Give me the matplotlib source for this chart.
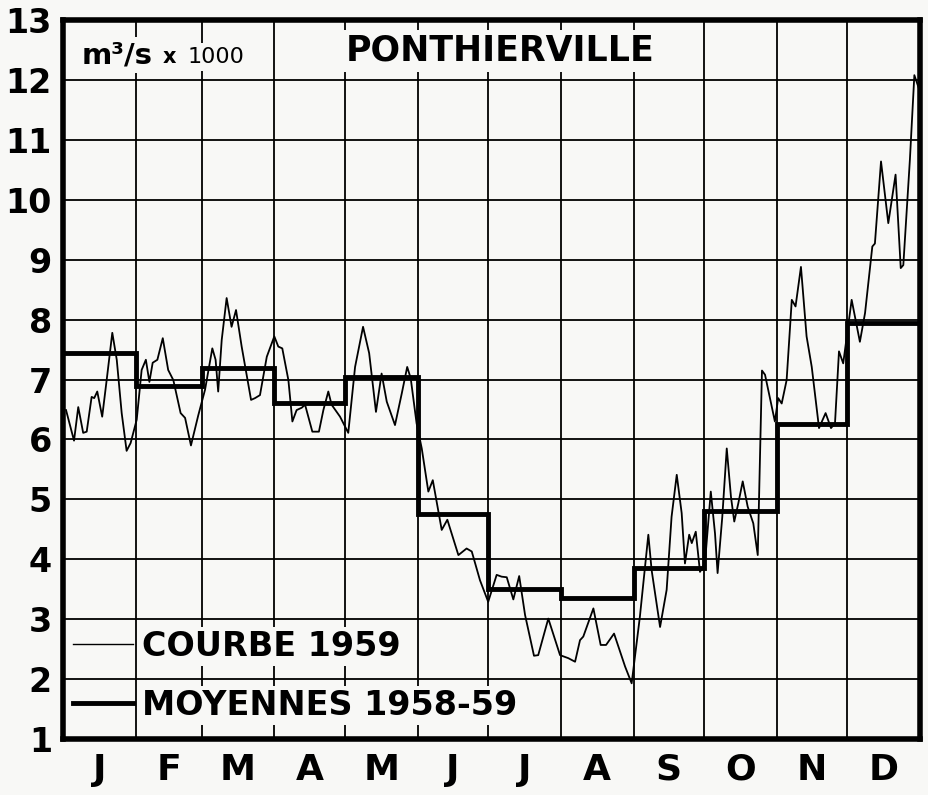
import matplotlib
matplotlib.use("Agg")
import matplotlib.pyplot as plt
from matplotlib.lines import Line2D
import numpy as np

# --- data ---
months = ['J', 'F', 'M', 'A', 'M', 'J', 'J', 'A', 'S', 'O', 'N', 'D']
month_days = [31, 28, 31, 30, 31, 30, 31, 31, 30, 31, 30, 31]
# monthly means 1958-59, 1000 m3/s
means = [7.45, 6.9, 7.2, 6.6, 7.05, 4.75, 3.5, 3.35, 3.85, 4.8, 6.25, 7.95]

# daily curve 1959 (day of year, 1000 m3/s)
day = [1.3, 4.7, 6.5, 8.6, 10.1, 12.2, 13.3, 14.6, 16.7, 18.6, 21.0, 22.9,
       25.0, 27.1, 28.8, 31.4, 33.5, 35.3, 36.8, 38.2, 40.2, 42.5, 44.8, 47.0,
       50.1, 52.0, 54.5, 57.6, 60.5, 63.6, 65.0, 66.1, 67.6, 69.7, 71.8, 73.7,
       76.1, 80.1, 81.8, 83.9, 86.8, 90.0, 91.7, 93.4, 96.0, 97.7, 99.5, 101.7,
       103.1, 106.2, 109.0, 110.9, 113.0, 114.4, 118.0, 121.5, 124.4, 127.8,
       130.4, 133.3, 135.7, 137.9, 141.4, 144.3, 146.6, 148.1, 150.6, 152.8,
       155.6, 157.5, 161.3, 163.7, 168.4, 171.9, 174.1, 177.6, 181.1, 184.7,
       186.8, 189.0, 191.8, 194.3, 196.8, 200.6, 202.4, 206.7, 211.7, 215.2,
       218.1, 220.2, 221.6, 225.9, 229.0, 231.3, 234.7, 239.4, 242.2, 245.7,
       249.3, 250.7, 254.3, 257.1, 259.2, 261.4, 263.5, 264.9, 266.7, 267.8,
       269.5, 271.3, 273.4, 275.9, 277.7, 278.8, 280.8, 282.7, 284.5, 285.9,
       287.6, 289.5, 291.6, 294.0, 295.9, 297.7, 299.0, 303.2, 304.6, 306.1,
       308.2, 310.4, 312.0, 314.3, 316.7, 318.9, 322.0, 324.8, 327.1, 328.8,
       330.5, 332.3, 335.9, 339.4, 341.6, 344.7, 345.8, 348.4, 351.5, 354.6,
       356.8, 357.9, 360.7, 362.6, 364.6]
flow = [6.49, 5.98, 6.54, 6.11, 6.13, 6.71, 6.69, 6.80, 6.38, 6.99, 7.78, 7.33,
        6.44, 5.81, 5.94, 6.33, 7.16, 7.33, 6.96, 7.28, 7.33, 7.69, 7.16, 6.99,
        6.44, 6.36, 5.90, 6.40, 6.83, 7.52, 7.33, 6.80, 7.66, 8.36, 7.88, 8.16,
        7.55, 6.66, 6.69, 6.74, 7.38, 7.72, 7.55, 7.52, 6.99, 6.30, 6.49, 6.53,
        6.58, 6.13, 6.13, 6.49, 6.80, 6.58, 6.38, 6.11, 7.21, 7.88,
        7.44, 6.46, 7.10, 6.63, 6.24, 6.77, 7.21, 7.02, 6.27, 5.85,
        5.13, 5.32, 4.49, 4.66, 4.07, 4.18, 4.13, 3.65, 3.29, 3.74,
        3.71, 3.70, 3.33, 3.72, 3.07, 2.39, 2.40, 3.01, 2.40, 2.35,
        2.29, 2.65, 2.71, 3.18, 2.57, 2.57, 2.76, 2.21, 1.93, 3.04,
        4.41, 3.82, 2.87, 3.49, 4.71, 5.41, 4.77, 3.93, 4.41, 4.27,
        4.46, 3.79, 3.93, 5.13, 4.43, 3.77, 4.71, 5.85, 5.04, 4.63,
        4.93, 5.30, 4.88, 4.60, 4.07, 7.15, 7.08, 6.30, 6.69, 6.60,
        6.99, 8.33, 8.22, 8.88, 7.72, 7.21, 6.19, 6.44, 6.19, 6.27,
        7.47, 7.27, 8.33, 7.63, 8.11, 9.22, 9.27, 10.64, 9.61, 10.42,
        8.86, 8.91, 10.67, 12.08, 11.85]

bg = '#f8f8f6'
plt.rcParams['font.family'] = 'DejaVu Sans'

edges = np.concatenate([[0], np.cumsum(month_days)])
mids = (edges[:-1] + edges[1:]) / 2

fig = plt.figure(figsize=(9.29, 7.95), dpi=100, facecolor=bg)
ax = fig.add_axes([0.0678, 0.0704, 0.9225, 0.9044], facecolor=bg)

ax.plot(day, flow, color='k', lw=1.3, zorder=3)
ax.stairs(means, edges, baseline=None, color='k', lw=3.5, zorder=4)

ax.set_xlim(0, 365)
ax.set_ylim(1, 13)
ax.set_xticks(edges)
ax.set_xticklabels([])
ax.set_xticks(mids, minor=True)
ax.set_xticklabels(months, minor=True, fontsize=26, fontweight='bold')
ax.set_yticks(range(1, 14))
ax.set_yticklabels([str(v) for v in range(1, 14)], fontsize=24, fontweight='bold')
ax.tick_params(axis='both', which='both', length=0)
ax.tick_params(axis='x', which='minor', pad=10)
ax.tick_params(axis='y', pad=8)
ax.grid(True, which='major', color='k', lw=1.3)
ax.set_axisbelow(True)
for s in ax.spines.values():
    s.set_linewidth(4)

# labels at the top
box = dict(facecolor=bg, edgecolor='none', pad=3)
ax.text(0.022, 0.94, 'm³/s', transform=ax.transAxes, fontsize=21,
        fontweight='bold', va='baseline', bbox=box, zorder=6)
ax.text(0.116, 0.94, 'x', transform=ax.transAxes, fontsize=15,
        fontweight='bold', va='baseline', zorder=6)
ax.text(0.145, 0.94, '1000', transform=ax.transAxes, fontsize=16,
        va='baseline', bbox=box, zorder=6)
ax.text(0.33, 0.957, 'PONTHIERVILLE', transform=ax.transAxes, fontsize=25,
        fontweight='bold', va='center', bbox=box, zorder=6)

handles = [Line2D([], [], color='k', lw=1.0), Line2D([], [], color='k', lw=3.5)]
leg = ax.legend(handles, ['COURBE 1959', 'MOYENNES 1958-59'], loc='lower left',
                bbox_to_anchor=(0.0, 0.0097), frameon=False,
                prop=dict(weight='bold', size=24),
                handlelength=1.8, handletextpad=0.27, labelspacing=0.78,
                borderpad=0.3, borderaxespad=0)
for t in leg.get_texts():
    t.set_bbox(dict(facecolor=bg, edgecolor='none', pad=2))

fig.savefig('out.png', dpi=100, facecolor=bg)
